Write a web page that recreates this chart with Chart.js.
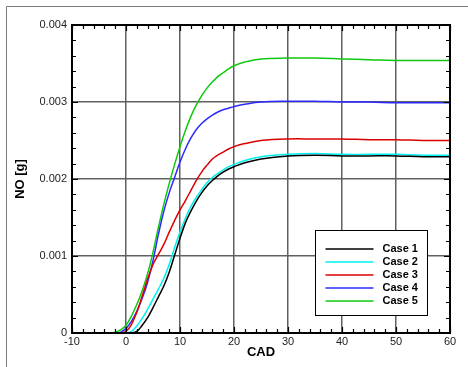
<!DOCTYPE html>
<html>
<head>
<meta charset="utf-8">
<script src="https://cdn.jsdelivr.net/npm/chart.js@4.4.1/dist/chart.umd.min.js"></script>
<style>
  html, body { margin: 0; padding: 0; background: #fff; }
  canvas { display: block; }
</style>
</head>
<body>
<canvas id="chart" width="468" height="367"></canvas>
<script>
// crank angle samples shared by every case
const cad = [-10, -8, -6, -4, -3, -2, -1, 0, 1, 2, 3, 4, 5, 6, 7, 8, 9, 10, 11, 12, 13, 14, 15,
  16, 17, 18, 19, 20, 22, 25, 30, 35, 40, 45, 50, 55, 60];

// NO mass [g] per case
const case1 = [0, 0, 0, 0, 0, 0, 0, 0, 0, 0.00002, 0.0001, 0.0002, 0.00033, 0.00047, 0.00061, 0.00079,
  0.00101, 0.00123, 0.00143, 0.00158, 0.00171, 0.00182, 0.00191, 0.00198, 0.00204, 0.00209, 0.00213,
  0.00216, 0.00221, 0.00226, 0.0023, 0.00231, 0.0023, 0.0023, 0.0023, 0.00229, 0.00229];
const case2 = [0, 0, 0, 0, 0, 0, 0, 0, 0.00002, 0.00009, 0.00019, 0.00031, 0.00044, 0.00057, 0.00071,
  0.00089, 0.00111, 0.00131, 0.00149, 0.00164, 0.00176, 0.00186, 0.00195, 0.00202, 0.00207, 0.00212,
  0.00216, 0.00219, 0.00224, 0.00229, 0.00232, 0.00233, 0.00232, 0.00232, 0.00232, 0.00231, 0.00231];
const case3 = [0, 0, 0, 0, 0, 0, 0, 0.00002, 0.00011, 0.00027, 0.00048, 0.0007, 0.00089, 0.00102, 0.00115,
  0.00131, 0.00146, 0.0016, 0.00172, 0.00185, 0.00198, 0.00209, 0.00218, 0.00226, 0.00231, 0.00235,
  0.00239, 0.00242, 0.00246, 0.0025, 0.00252, 0.00252, 0.00252, 0.00251, 0.00251, 0.0025, 0.0025];
const case4 = [0, 0, 0, 0, 0, 0, 0.00001, 0.00006, 0.00015, 0.00028, 0.00045, 0.00066, 0.00094, 0.00128,
  0.00158, 0.00182, 0.00202, 0.00222, 0.00239, 0.00253, 0.00264, 0.00272, 0.00278, 0.00283, 0.00287,
  0.0029, 0.00292, 0.00294, 0.00297, 0.003, 0.00301, 0.00301, 0.003, 0.003, 0.00299, 0.00299, 0.00299];
const case5 = [0, 0, 0, 0, 0, 0.00001, 0.00004, 0.0001, 0.00022, 0.00037, 0.00055, 0.00077, 0.00105,
  0.00137, 0.00167, 0.00194, 0.00219, 0.00242, 0.00263, 0.00281, 0.00296, 0.00308, 0.00318, 0.00326,
  0.00333, 0.00338, 0.00343, 0.00347, 0.00352, 0.00356, 0.00357, 0.00357, 0.00356, 0.00355, 0.00354,
  0.00354, 0.00354];

const caseLabels = ['Case 1', 'Case 2', 'Case 3', 'Case 4', 'Case 5'];
const caseColors = ['#000000', '#00f0f0', '#dd0000', '#2b2bff', '#11c811'];
const caseValues = [case1, case2, case3, case4, case5];

const FONT = "'Liberation Sans', Arial, Helvetica, sans-serif";

// black box around the plot with inward minor/major ticks on all four sides
const frameTicks = {
  id: 'frameTicks',
  afterDatasetsDraw(chart) {
    const { ctx, chartArea: a, scales: { x, y } } = chart;
    ctx.save();
    ctx.strokeStyle = '#000';
    ctx.lineWidth = 1.2;
    ctx.beginPath();
    for (let v = -10; v <= 60; v += 2) {
      const px = Math.round(x.getPixelForValue(v)) + 0.5;
      const len = v % 10 === 0 ? 6 : 4;
      ctx.moveTo(px, a.bottom); ctx.lineTo(px, a.bottom - len);
      ctx.moveTo(px, a.top); ctx.lineTo(px, a.top + len);
    }
    for (let i = 0; i <= 20; i++) {
      const py = Math.round(y.getPixelForValue(i * 0.0002)) + 0.5;
      const len = i % 5 === 0 ? 6 : 4;
      ctx.moveTo(a.left, py); ctx.lineTo(a.left + len, py);
      ctx.moveTo(a.right, py); ctx.lineTo(a.right - len, py);
    }
    ctx.stroke();
    ctx.lineWidth = 2;
    ctx.strokeRect(a.left, a.top, a.right - a.left, a.bottom - a.top);
    ctx.restore();
  },
  afterDraw(chart) {
    const { ctx, chartArea: a } = chart;
    ctx.save();
    // outer panel edge
    ctx.strokeStyle = '#7a7a7a';
    ctx.lineWidth = 1;
    ctx.beginPath();
    ctx.moveTo(6.5, chart.height);
    ctx.lineTo(6.5, 6.5);
    ctx.lineTo(chart.width, 6.5);
    ctx.stroke();

    // legend box in the lower right of the plot
    const bx = Math.round(a.right - 135) + 0.5, by = Math.round(a.bottom - 103) + 0.5;
    const bw = 112, bh = 85;
    ctx.fillStyle = '#fff';
    ctx.fillRect(bx, by, bw, bh);
    ctx.strokeStyle = '#000';
    ctx.strokeRect(bx, by, bw, bh);
    ctx.font = 'bold 11px ' + FONT;
    ctx.textBaseline = 'middle';
    ctx.textAlign = 'left';
    chart.data.datasets.forEach((ds, i) => {
      const ry = by + 18.5 + i * 13;
      ctx.strokeStyle = ds.borderColor;
      ctx.lineWidth = 1.6;
      ctx.beginPath();
      ctx.moveTo(bx + 10, ry);
      ctx.lineTo(bx + 58, ry);
      ctx.stroke();
      ctx.fillStyle = '#000';
      ctx.fillText(ds.label, bx + 67, ry);
    });
    ctx.restore();
  }
};

new Chart(document.getElementById('chart'), {
  type: 'line',
  data: {
    datasets: caseLabels.map((label, i) => ({
      label,
      data: cad.map((c, j) => ({ x: c, y: caseValues[i][j] })),
      borderColor: caseColors[i],
      borderWidth: 1.5,
      pointRadius: 0,
      tension: 0.4,
      fill: false
    }))
  },
  options: {
    responsive: false,
    animation: false,
    devicePixelRatio: 1,
    layout: { padding: { left: 0, top: 25, right: 18, bottom: 0 } },
    plugins: {
      legend: { display: false },
      tooltip: { enabled: false }
    },
    scales: {
      x: {
        type: 'linear',
        min: -10,
        max: 60,
        afterFit: (scale) => { scale.height = 34; },
        ticks: {
          stepSize: 10,
          padding: 2,
          color: '#222',
          font: { family: FONT, size: 11 }
        },
        grid: { color: '#606060', lineWidth: 1.5, drawTicks: false },
        border: { display: false },
        title: {
          display: true,
          text: 'CAD',
          color: '#000',
          font: { family: FONT, size: 13, weight: 'bold' },
          padding: { top: 0, bottom: 7 }
        }
      },
      y: {
        min: 0,
        max: 0.004,
        afterFit: (scale) => { scale.width = 72; },
        ticks: {
          stepSize: 0.001,
          padding: 5,
          color: '#222',
          font: { family: FONT, size: 11 },
          callback: (v) => (v === 0 ? '0' : v.toFixed(3))
        },
        grid: { color: '#606060', lineWidth: 1.5, drawTicks: false },
        border: { display: false },
        title: {
          display: true,
          text: 'NO [g]',
          color: '#000',
          font: { family: FONT, size: 13, weight: 'bold' },
          padding: { top: 13, bottom: 0 }
        }
      }
    }
  },
  plugins: [frameTicks]
});
</script>
</body>
</html>
